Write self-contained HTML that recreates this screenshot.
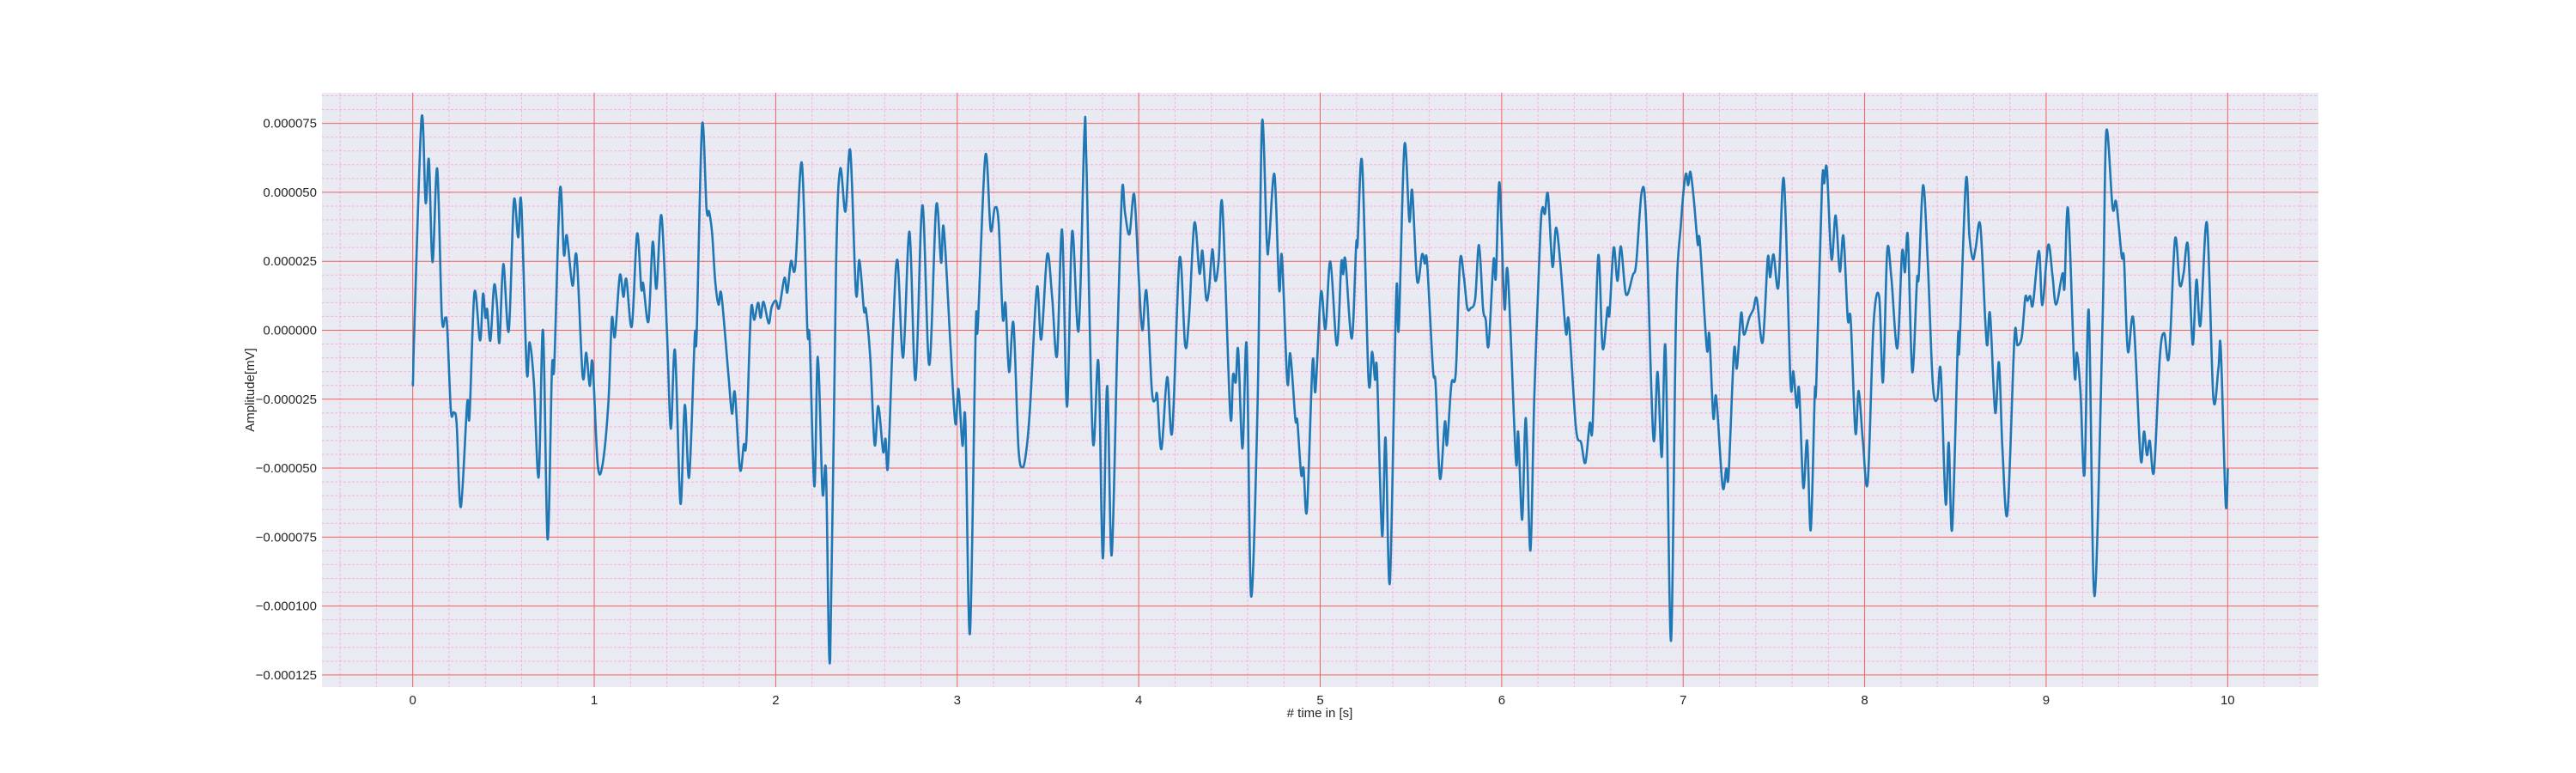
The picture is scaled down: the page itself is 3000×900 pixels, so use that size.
<!DOCTYPE html>
<html><head><meta charset="utf-8"><style>
html,body{margin:0;padding:0;background:#fff;}
svg{display:block;font-family:"Liberation Sans",sans-serif;}
</style></head><body>
<svg id="chart" width="3000" height="900" viewBox="0 0 3000 900" xmlns="http://www.w3.org/2000/svg">
<rect x="0" y="0" width="3000" height="900" fill="#ffffff"/>
<rect x="375" y="108" width="2325" height="692" fill="#eaeaf2"/>
<g id="minor"></g>
<g id="major"></g>
<g id="series"></g>
<g id="xticks"></g>
<g id="yticks"></g>
<text x="1537" y="835" font-size="15" fill="#262626" text-anchor="middle"># time in [s]</text>
<text x="0" y="0" font-size="15" fill="#262626" text-anchor="middle" transform="translate(296,454) rotate(-90)">Amplitude[mV]</text>
</svg>
<script>
const xTickValues = [0,1,2,3,4,5,6,7,8,9,10];
const yTickValues = [75,50,25,0,-25,-50,-75,-100,-125];
const yTickLabels = ["0.000075","0.000050","0.000025","0.000000","\u22120.000025","\u22120.000050","\u22120.000075","\u22120.000100","\u22120.000125"];
const times = [0,0.004,0.048,0.071,0.089,0.109,0.135,0.16,0.179,0.19,0.21,0.226,0.242,0.265,0.30,0.313,0.34,0.371,0.387,0.401,0.41,0.428,0.448,0.464,0.478,0.499,0.529,0.557,0.581,0.598,0.628,0.644,0.668,0.694,0.718,0.743,0.767,0.78,0.811,0.833,0.849,0.88,0.903,0.936,0.956,0.975,0.991,1.019,1.046,1.078,1.097,1.114,1.141,1.161,1.177,1.207,1.236,1.259,1.27,1.299,1.322,1.343,1.37,1.401,1.422,1.445,1.475,1.499,1.523,1.554,1.564,1.594,1.619,1.633,1.65,1.666,1.685,1.701,1.74,1.759,1.775,1.803,1.824,1.838,1.863,1.882,1.903,1.917,1.933,1.961,1.977,2.0,2.019,2.048,2.064,2.084,2.108,2.144,2.174,2.187,2.213,2.232,2.258,2.277,2.3,2.332,2.355,2.384,2.411,2.442,2.461,2.486,2.497,2.521,2.545,2.565,2.592,2.605,2.619,2.647,2.671,2.702,2.737,2.77,2.808,2.846,2.884,2.911,2.926,2.963,2.99,3.007,3.029,3.045,3.07,3.102,3.113,3.155,3.184,3.207,3.228,3.251,3.266,3.286,3.31,3.337,3.36,3.381,3.401,3.439,3.463,3.496,3.523,3.55,3.578,3.605,3.633,3.669,3.701,3.712,3.747,3.778,3.802,3.826,3.851,3.882,3.908,3.925,3.949,3.975,4.0,4.02,4.043,4.072,4.091,4.102,4.125,4.157,4.185,4.225,4.256,4.277,4.307,4.335,4.351,4.371,4.387,4.406,4.422,4.441,4.461,4.504,4.52,4.535,4.548,4.572,4.595,4.619,4.655,4.679,4.706,4.718,4.748,4.774,4.789,4.819,4.835,4.863,4.874,4.895,4.908,4.927,4.958,4.974,5.004,5.029,5.056,5.092,5.116,5.127,5.139,5.174,5.198,5.206,5.231,5.266,5.286,5.302,5.313,5.341,5.36,5.384,5.419,5.433,5.464,5.491,5.507,5.534,5.561,5.576,5.589,5.621,5.636,5.66,5.687,5.699,5.723,5.747,5.77,5.791,5.81,5.829,5.854,5.875,5.897,5.912,5.928,5.955,5.968,5.988,6.015,6.034,6.078,6.091,6.113,6.133,6.158,6.18,6.212,6.225,6.238,6.255,6.28,6.299,6.323,6.354,6.37,6.409,6.438,6.461,6.485,6.501,6.532,6.556,6.583,6.594,6.617,6.638,6.657,6.685,6.722,6.741,6.772,6.796,6.835,6.859,6.882,6.903,6.933,6.961,6.988,7.013,7.028,7.04,7.059,7.08,7.092,7.13,7.144,7.166,7.182,7.217,7.237,7.25,7.28,7.296,7.319,7.335,7.364,7.387,7.406,7.438,7.466,7.479,7.498,7.525,7.555,7.591,7.607,7.626,7.639,7.662,7.683,7.703,7.725,7.733,7.765,7.777,7.792,7.817,7.84,7.863,7.883,7.907,7.923,7.949,7.967,7.99,8.017,8.049,8.08,8.101,8.124,8.147,8.18,8.206,8.222,8.238,8.262,8.288,8.298,8.322,8.348,8.375,8.4,8.419,8.446,8.463,8.482,8.514,8.522,8.558,8.577,8.596,8.612,8.637,8.664,8.676,8.691,8.719,8.74,8.759,8.787,8.825,8.842,8.866,8.885,8.897,8.912,8.927,8.96,8.979,9.011,9.035,9.055,9.09,9.101,9.121,9.156,9.169,9.189,9.211,9.235,9.266,9.311,9.331,9.366,9.386,9.416,9.429,9.45,9.481,9.52,9.539,9.555,9.571,9.594,9.626,9.65,9.677,9.71,9.736,9.757,9.781,9.807,9.828,9.85,9.886,9.921,9.949,9.962,9.989,10.001];
const values = [-19.2,-10,76.4,46.2,61.8,24.7,58.5,5.2,4.5,1.1,-29.1,-29.8,-33.9,-64.1,-26.4,-31.2,13.7,-3.7,13.2,4.5,7.6,-3.7,16.2,9.3,-4.4,24.0,-0.3,46.7,33.7,46.2,-14.7,-4.4,-19.5,-53.2,0,-75.8,-14.0,-12.6,51.0,27.5,34.3,16.2,26.8,-16.5,-8.2,-20.2,-11.9,-48.6,-48.6,-26.4,4.1,-2.3,19.9,12.1,18.5,1.4,35.0,15.1,16.9,3.2,32.0,15.1,41.6,-1.0,-35.7,-7.4,-62.8,-27.1,-53.2,-2.3,-1.6,74.2,43.7,43.0,34.8,18.3,9.3,12.8,-16.8,-30.2,-22.7,-50.4,-41.5,-40.1,6.6,3.8,10.0,4.5,10.3,2.5,8.2,10.7,8.0,19.0,13.7,25.0,23.1,60.6,0.4,-3.0,-56.6,-9.6,-58.7,-51.5,-119.4,21.7,58.4,43.0,65.0,13.5,25.4,7.3,7.3,-9.9,-41.5,-27.5,-44.0,-39.4,-49.0,1.1,25.4,-9.9,35.7,-18.1,45.3,-12.6,45.1,24.5,37.1,-5.8,-33.9,-21.3,-41.8,-33.0,-109.9,0.4,1.1,63.2,36.4,44.4,39.1,4.5,9.6,-15.1,2.5,-42.2,-49.7,-43.5,-28.4,15.5,-3.3,27.5,12.1,-9.2,36.4,-27.7,35.7,0,71.8,60,-39.8,-11.5,-82.7,-20.2,-81.6,-5.1,50.3,42.3,34.8,49.2,19.6,0,14.1,-21.6,-25.3,-23.6,-43.1,-17.0,-36.7,26.1,-5.5,4.5,38.9,20.6,28.8,11.7,14.6,29.3,17.9,25.4,45.1,-30.2,-16.1,-18.8,-7.1,-42.9,-5.5,-96.4,-26.4,75.0,31.6,32.0,56.5,14.8,26.8,-18.8,-8.5,-32.1,-33.0,-52.2,-50.1,-65.2,-11.7,-22.0,13.7,0.4,24.9,-5.5,24.2,20.3,25.4,-3.0,30.9,31.3,60.9,-17.4,-7.8,-17.9,-15.1,-74.5,-39.0,-91.2,13.2,0.8,67.0,39.6,50.5,17.9,27.5,24.2,24.5,-14.0,-19.5,-53.8,-33.2,-41.5,-19.5,-15.4,24.9,19.6,8.2,8.0,11.4,30.9,8.0,3.8,-5.5,25.4,19.2,53.6,8.2,20.7,-46.7,-37.1,-68.7,-31.9,-79.9,-23.6,34.1,44.4,42.2,49.2,23.1,37.2,24.5,-1.0,3.2,-35.3,-40.8,-48.1,-33.7,-34.3,26.9,-6.5,8.0,5.9,29.9,17.9,30.4,13.0,19.9,24.2,50.3,39.6,-38.7,-15.1,-45.9,-6.7,-112.6,6.6,38.9,56.3,52.6,57.4,47.1,31.3,32.0,-6.5,-1.6,-31.6,-24.3,-56.6,-50.1,-52.5,-7.6,-13.7,6.2,-1.6,4.5,7.6,11.4,-4.4,26.2,19.2,27.5,15.9,54.7,-18.1,-15.0,-28.0,-21.6,-57.0,-40.1,-72.4,-22.9,-19.9,52.6,53.3,58.4,25.8,41.6,21.3,34.1,4.1,3.8,-37.1,-22.0,-40.1,-54.9,2.1,12.1,-18.8,28.6,19.0,-6.5,28.2,21.0,34.1,-15.1,17.9,19.6,52.6,24.5,-19.2,-25.0,-14.7,-62.8,-40.8,-72.0,-3.4,-6.5,54.3,34.3,25.8,29.9,38.2,4.1,-5.5,5.9,-29.8,-11.7,-42.9,-66.2,-3.0,-5.5,-2.3,11.8,10.7,12.4,9.3,28.8,9.1,30.9,19.6,9.3,20.6,15.5,44.0,-15.4,-8.2,-22.3,-52.2,6.9,-96.4,3.8,71.8,44.4,46.4,26.8,25.8,-7.6,3.8,-46.3,-36.7,-45.3,-40.1,-51.1,-9.9,-1.0,-9.6,33.0,16.5,20.6,30.9,-5.1,18.3,1.8,38.9,-24.3,-14.0,-6.5,-62.8,-50.1];

const NS='http://www.w3.org/2000/svg';
const X0=375, X1=2700, Y0=108, Y1=800;
const xMin=-0.5, xMax=10.5, yMin=-129.4, yMax=86.1;
function xs(t){return X0+(t-xMin)/(xMax-xMin)*(X1-X0);}
function ys(v){return Y1-(v-yMin)/(yMax-yMin)*(Y1-Y0);}
function mk(tag,attrs,parent){const e=document.createElementNS(NS,tag);for(const k in attrs)e.setAttribute(k,attrs[k]);parent.appendChild(e);return e;}

const minor=document.getElementById('minor'), major=document.getElementById('major');
for(let i=-2;i<=52;i++){const t=i*0.2; if(i%5===0)continue; const x=xs(t);
  const l=mk('line',{x1:x,x2:x,y1:Y0,y2:Y1,stroke:'#f2b4e2','stroke-width':1,'stroke-dasharray':'3,2'},minor);
  
  }
for(let v=-125;v<=85;v+=5){ if(v%25===0)continue; const y=ys(v);
  const l=mk('line',{x1:X0,x2:X1,y1:y,y2:y,stroke:'#f2b4e2','stroke-width':1,'stroke-dasharray':'3,2'},minor);
  
  }
const xt=document.getElementById('xticks'), yt=document.getElementById('yticks');
xTickValues.forEach(t=>{const x=xs(t);
  const l=mk('line',{x1:x,x2:x,y1:Y0,y2:Y1,stroke:'#f06060','stroke-width':1},major);
  
  
  const tx=mk('text',{x:x,y:Y1+20,'font-size':15,fill:'#262626','text-anchor':'middle'},xt);
  tx.textContent=String(t);
  
  });
yTickValues.forEach((v,i)=>{const y=ys(v);
  const l=mk('line',{x1:X0,x2:X1,y1:y,y2:y,stroke:'#f06060','stroke-width':1},major);
  
  
  const tx=mk('text',{x:X0-6,y:y+5,'font-size':15,fill:'#262626','text-anchor':'end'},yt);
  tx.textContent=yTickLabels[i];
  
  });

const pts=times.map((t,i)=>[xs(t),ys(values[i])]);
let d='M'+pts[0][0].toFixed(1)+','+pts[0][1].toFixed(1);
for(let i=0;i<pts.length-1;i++){
  const p0=pts[Math.max(0,i-1)],p1=pts[i],p2=pts[i+1],p3=pts[Math.min(pts.length-1,i+2)];
  const c1=[p1[0]+(p2[0]-p0[0])/6,p1[1]+(p2[1]-p0[1])/6];
  const c2=[p2[0]-(p3[0]-p1[0])/6,p2[1]-(p3[1]-p1[1])/6];
  c1[0]=Math.min(Math.max(c1[0],p1[0]),p2[0]); c2[0]=Math.min(Math.max(c2[0],p1[0]),p2[0]);
  d+=' C'+c1[0].toFixed(1)+','+c1[1].toFixed(1)+' '+c2[0].toFixed(1)+','+c2[1].toFixed(1)+' '+p2[0].toFixed(1)+','+p2[1].toFixed(1);
}
const path=mk('path',{d:d,fill:'none',stroke:'#1f77b4','stroke-width':2.6,'stroke-linejoin':'round'},document.getElementById('series'));


</script>
</body></html>
